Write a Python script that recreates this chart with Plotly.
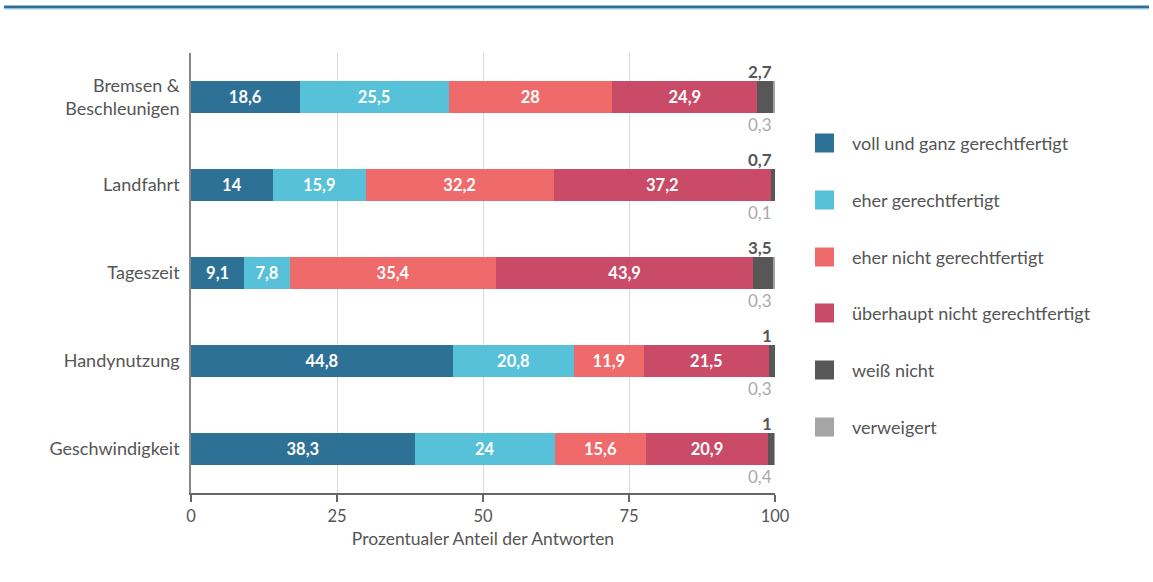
import plotly.graph_objects as go

# Survey: how justified are traffic checks, by reason
categories = ["Bremsen &<br>Beschleunigen", "Landfahrt", "Tageszeit", "Handynutzung", "Geschwindigkeit"]
series_names = [
    "voll und ganz gerechtfertigt",
    "eher gerechtfertigt",
    "eher nicht gerechtfertigt",
    "überhaupt nicht gerechtfertigt",
    "weiß nicht",
    "verweigert",
]
voll = [18.6, 14, 9.1, 44.8, 38.3]
eher = [25.5, 15.9, 7.8, 20.8, 24]
eher_nicht = [28, 32.2, 35.4, 11.9, 15.6]
ueberhaupt_nicht = [24.9, 37.2, 43.9, 21.5, 20.9]
weiss_nicht = [2.7, 0.7, 3.5, 1, 1]
verweigert = [0.3, 0.1, 0.3, 0.3, 0.4]
x_ticks = [0, 25, 50, 75, 100]

colors = ["#2e7196", "#56c1d9", "#ef6b6b", "#c94b67", "#575757", "#a5a5a5"]
series = [voll, eher, eher_nicht, ueberhaupt_nicht, weiss_nicht, verweigert]

FONT = "Lato"
W, H = 1153, 582
L, R, T, B = 191, 775, 53, 493  # plot area in pixels


def px(x):
    return (x - L) / (R - L)


def py(y):
    return (B - y) / (B - T)


def de(v):
    return f"{v:g}".replace(".", ",")


fig = go.Figure()
for i, (name, vals) in enumerate(zip(series_names, series)):
    show_text = i < 4
    fig.add_trace(go.Bar(
        name=name,
        y=categories,
        x=vals,
        orientation="h",
        marker=dict(color=colors[i], line=dict(width=0)),
        text=[de(v) for v in vals] if show_text else None,
        textposition="inside" if show_text else "none",
        insidetextanchor="middle",
        textfont=dict(family=FONT, size=16.5, color="white", weight="bold"),
        showlegend=False,
        hoverinfo="x+name",
    ))

annotations = []
for j, cat in enumerate(categories):
    total = min(sum(s[j] for s in series), 100)
    annotations.append(dict(
        x=total, y=cat, xref="x", yref="y", text=de(weiss_nicht[j]),
        showarrow=False, xanchor="right", yanchor="middle", xshift=-1, yshift=26,
        font=dict(family=FONT, size=17, color="#575757", weight="bold"),
    ))
    annotations.append(dict(
        x=total, y=cat, xref="x", yref="y", text=de(verweigert[j]),
        showarrow=False, xanchor="right", yanchor="middle", xshift=-1, yshift=-27,
        font=dict(family=FONT, size=17, color="#aaaaaa"),
    ))

# Legend drawn as squares with labels on the right
shapes = []
legend_y = [143, 200, 257, 313, 370, 427]
for name, col, ly in zip(series_names, colors, legend_y):
    shapes.append(dict(
        type="rect", xref="paper", yref="paper",
        x0=px(815), x1=px(834), y0=py(ly + 9.5), y1=py(ly - 9.5),
        fillcolor=col, line=dict(width=0),
    ))
    annotations.append(dict(
        x=px(850), y=py(ly), xref="paper", yref="paper", text=name,
        showarrow=False, xanchor="left", yanchor="middle",
        font=dict(family=FONT, size=18, color="#555555"),
    ))

# Header rule
shapes.append(dict(type="line", xref="paper", yref="paper",
                   x0=px(4), x1=px(1149), y0=py(7), y1=py(7),
                   line=dict(color="#2e6f96", width=3)))
shapes.append(dict(type="line", xref="paper", yref="paper",
                   x0=px(4), x1=px(1149), y0=py(9), y1=py(9),
                   line=dict(color="#9ccbe2", width=1)))

fig.update_layout(
    width=W, height=H,
    margin=dict(l=L, r=W - R, t=T, b=H - B, pad=0),
    barmode="stack",
    bargap=0.645,
    plot_bgcolor="white",
    paper_bgcolor="white",
    font=dict(family=FONT, size=16, color="#555555"),
    shapes=shapes,
    annotations=annotations,
    showlegend=False,
)
fig.update_xaxes(
    range=[0, 100],
    tickvals=x_ticks,
    ticktext=[str(t) for t in x_ticks],
    showgrid=True, gridcolor="#d9d9d9", gridwidth=1,
    zeroline=False,
    showline=True, linecolor="#666666", linewidth=1.5,
    ticks="outside", ticklen=7, tickcolor="#666666", tickwidth=1.5,
    tickfont=dict(family=FONT, size=16.5, color="#555555"),
    title=dict(text="Prozentualer Anteil der Antworten",
               font=dict(family=FONT, size=17.5, color="#555555"), standoff=8),
)
fig.update_yaxes(
    categoryorder="array", categoryarray=categories[::-1],
    showgrid=False, zeroline=False,
    showline=True, linecolor="#888888", linewidth=1.5,
    ticks="", ticklabelstandoff=6,
    tickfont=dict(family=FONT, size=18, color="#555555"),
)

fig.write_html("out.html")
